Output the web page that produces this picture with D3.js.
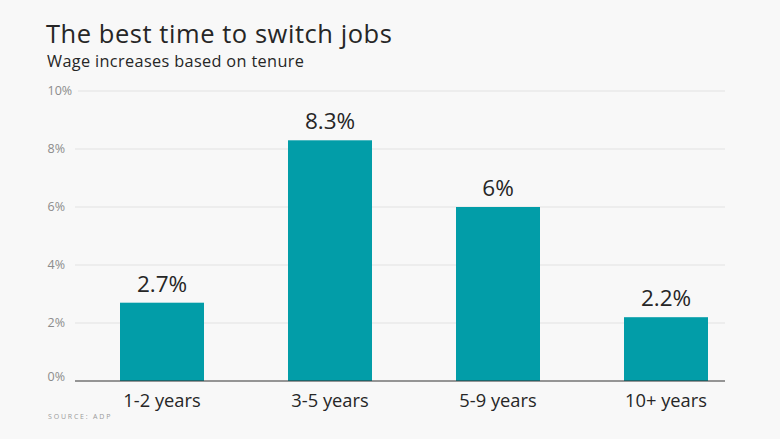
<!DOCTYPE html>
<html><head><meta charset="utf-8">
<script src="https://cdn.jsdelivr.net/npm/d3@7"></script>
<style>
body{margin:0;background:#f8f8f8;}
svg{display:block;font-family:"Open Sans","Noto Sans",sans-serif;}
</style></head><body>
<svg id="c" width="780" height="439"></svg>
<script>
const categories = ["1-2 years","3-5 years","5-9 years","10+ years"];
const values = [2.7, 8.3, 6, 2.2];
const valueLabels = ["2.7%","8.3%","6%","2.2%"];
const yTicks = [0,2,4,6,8,10];

const svg = d3.select("#c");
svg.append("rect").attr("width",780).attr("height",439).attr("fill","#f8f8f8");

const x = d3.scaleBand().domain(categories).range([78,750]).paddingInner(0.5).paddingOuter(0.25);
const y = d3.scaleLinear().domain([0,10]).range([381,91]);

svg.append("text").attr("x",46).attr("y",43).attr("font-size",25.5).attr("letter-spacing","0.55").attr("fill","#262626").text("The best time to switch jobs");
svg.append("text").attr("x",47).attr("y",67).attr("font-size",16.3).attr("letter-spacing","0.35").attr("fill","#262626").text("Wage increases based on tenure");

const g = svg.append("g");
yTicks.forEach(t=>{
  if(t>0) g.append("line").attr("x1",t===10?78:75).attr("x2",725).attr("y1",y(t)).attr("y2",y(t)).attr("stroke","#e2e2e2").attr("stroke-width",1);
  g.append("text").attr("x",47.5).attr("y",t===0?y(t)-4:y(t)).attr("dy","0.35em").attr("font-size",12.5).attr("fill","#8c8c8c").text(t+"%");
});

svg.selectAll("rect.bar").data(values).enter().append("rect").attr("class","bar")
  .attr("x",(d,i)=>x(categories[i])).attr("width",x.bandwidth())
  .attr("y",d=>y(d)).attr("height",d=>y(0)-y(d)).attr("fill","#029da8");

svg.selectAll("text.val").data(values).enter().append("text").attr("class","val")
  .attr("x",(d,i)=>x(categories[i])+x.bandwidth()/2).attr("y",d=>y(d)-11)
  .attr("text-anchor","middle").attr("font-size",22.5).attr("fill","#262626").text((d,i)=>valueLabels[i]);

svg.append("line").attr("x1",75).attr("x2",725).attr("y1",y(0)).attr("y2",y(0)).attr("stroke","#333").attr("stroke-width",1.2);

svg.selectAll("text.cat").data(categories).enter().append("text").attr("class","cat")
  .attr("x",d=>x(d)+x.bandwidth()/2).attr("y",407).attr("text-anchor","middle")
  .attr("font-size",18.3).attr("fill","#262626").text(d=>d);

svg.append("text").attr("x",48).attr("y",419).attr("font-size",7).attr("letter-spacing","1.8").attr("fill","#9a9a9a").text("SOURCE: ADP");
</script></body></html>
